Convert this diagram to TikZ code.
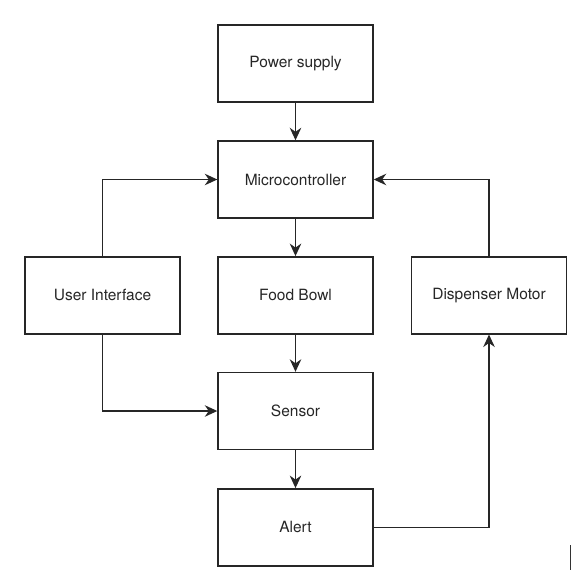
\documentclass[tikz,border=0pt]{standalone}
\usepackage{fontspec}
\setmainfont{TeX Gyre Heros}
\usetikzlibrary{arrows.meta}
\begin{document}
\begin{tikzpicture}[x=1pt,y=-1pt,
  blk/.style={draw=black!85, line width=1.4pt, minimum width=155pt, minimum height=77pt,
    inner sep=0pt, font=\fontsize{15.5}{18}\selectfont, text=black!85},
  conn/.style={draw=black!85, line width=1.4pt, -{Stealth[length=12.5pt,width=11.5pt,inset=4pt]}}]
\useasboundingbox (0,0) rectangle (571,577);
\node[blk] (power) at (295.5,63.5) {Power supply};
\node[blk] (micro) at (295.5,179.5) {Microcontroller};
\node[blk] (bowl) at (295.5,295.3) {Food Bowl};
\node[blk] (sensor) at (295.5,411) {Sensor};
\node[blk] (alert) at (295.5,527.3) {Alert};
\node[blk] (ui) at (102.5,295.3) {User Interface};
\node[blk] (disp) at (489,295.3) {Dispenser Motor};
\draw[conn] (power) -- (micro);
\draw[conn] (micro) -- (bowl);
\draw[conn] (bowl) -- (sensor);
\draw[conn] (sensor) -- (alert);
\draw[conn] (ui.north) |- (micro.west);
\draw[conn] (ui.south) |- (sensor.west);
\draw[conn] (alert.east) -| (disp.south);
\draw[conn] (disp.north) |- (micro.east);
\coordinate (m1) at (570,545);
\coordinate (m2) at (570,570);
\draw[black!80, line width=1pt] (m1) -- (m2);
\end{tikzpicture}
\end{document}
